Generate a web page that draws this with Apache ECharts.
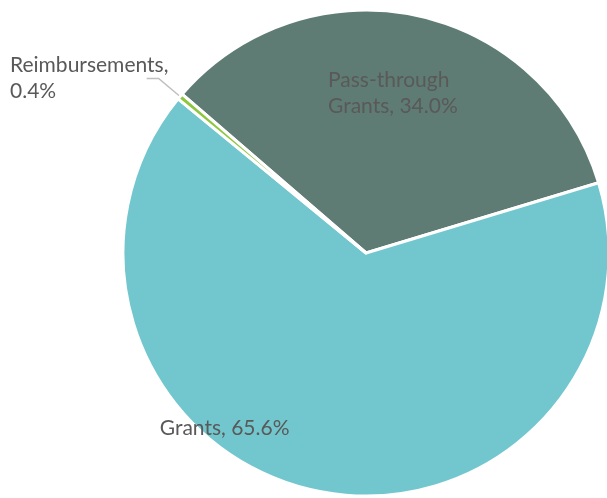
<!DOCTYPE html>
<html>
<head>
<meta charset="utf-8">
<style>
  html, body { margin: 0; padding: 0; background: #ffffff; }
  #chart { width: 607px; height: 498px; }
</style>
<script src="https://cdn.jsdelivr.net/npm/echarts@6/dist/echarts.min.js"></script>
</head>
<body>
<div id="chart"></div>
<script>
// Funding sources, share of total (%)
const categories = ['Pass-through Grants', 'Grants', 'Reimbursements'];
const labelLines = [['Pass-through', 'Grants, '], ['Grants, '], ['Reimbursements,', '']];
const shares = [34.0, 65.6, 0.4];
const colors = ['#5f7c74', '#72c7ce', '#8dc63f'];

const textStyle = {
  fontFamily: 'Lato, "Noto Sans", sans-serif',
  fontSize: 21,
  color: '#595959',
  lineHeight: 26
};

const data = categories.map((name, i) => {
  const item = {
    name: name,
    value: shares[i],
    itemStyle: { color: colors[i] }
  };
  if (i === 0) {
    item.label = { position: 'inside', offset: [1, -38] };
  } else if (i === 1) {
    item.label = { position: 'inside', offset: [-117, 53] };
  } else {
    item.label = {
      position: 'outside',
      alignTo: 'edge',
      edgeDistance: 10
    };
    item.labelLine = {
      show: true,
      length: 28,
      length2: 12,
      lineStyle: { color: '#bfbfbf', width: 1.5 }
    };
  }
  return item;
});

const chart = echarts.init(document.getElementById('chart'), null, { renderer: 'canvas' });
chart.setOption({
  animation: false,
  backgroundColor: '#ffffff',
  series: [{
    type: 'pie',
    center: [366, 253],
    radius: 243,
    startAngle: 139.2,
    clockwise: true,
    avoidLabelOverlap: false,
    itemStyle: { borderColor: '#ffffff', borderWidth: 3 },
    label: Object.assign({
      show: true,
      // each line is a left-aligned rich token so multi-line labels share a left edge
      formatter: (p) => {
        const parts = labelLines[p.dataIndex].slice();
        parts[parts.length - 1] += p.value.toFixed(1) + '%';
        return parts.map((s) => '{t|' + s + '}').join('\n');
      },
      rich: {
        t: Object.assign({ align: 'left' }, textStyle)
      }
    }, textStyle),
    labelLine: { show: false },
    emphasis: { disabled: true },
    data: data
  }]
});
</script>
</body>
</html>
